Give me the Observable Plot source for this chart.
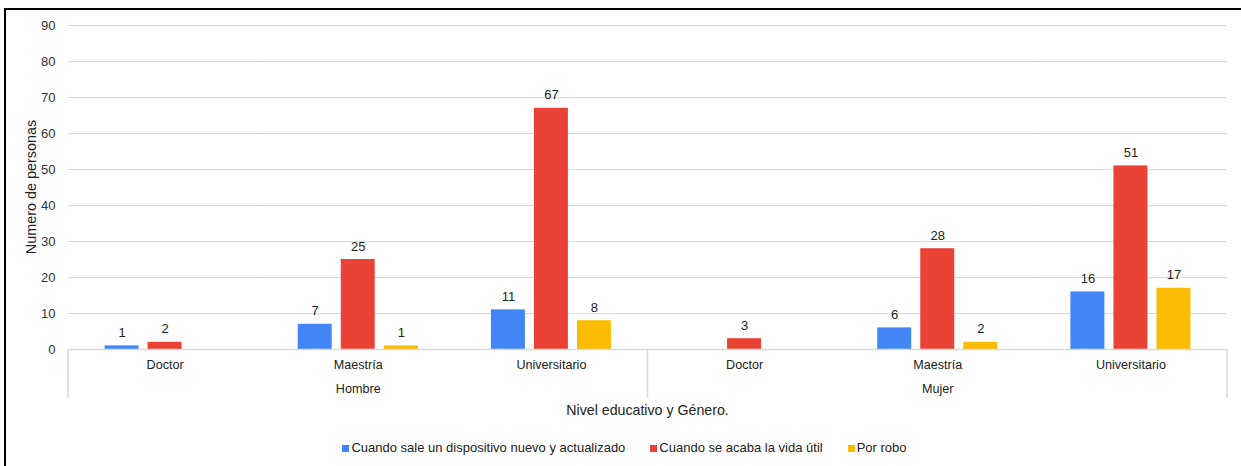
<!DOCTYPE html>
<html>
<head>
<meta charset="utf-8">
<script src="https://cdn.jsdelivr.net/npm/d3@7"></script>
<script src="https://cdn.jsdelivr.net/npm/@observablehq/plot@0.6"></script>
<style>
  html, body { margin: 0; padding: 0; background: #fff; }
  body { width: 1241px; height: 466px; position: relative; overflow: hidden;
         font-family: "Liberation Sans", Arial, sans-serif; color: #333; }
  #chart { position: absolute; left: 0; top: 0; }
  #frame { position: absolute; left: 4px; top: 8px; width: 1260px; height: 480px;
           border-left: 2px solid #000; border-top: 2px solid #000; pointer-events: none; }
  #legend { position: absolute; left: 0; top: 440px; width: 1249px; display: flex;
            justify-content: center; gap: 25px; font-size: 13px; line-height: 16px; color: #222; }
  #legend span.sw { display: inline-block; width: 7px; height: 7px; margin-right: 2px; vertical-align: 0px; }
</style>
</head>
<body>
<div id="chart"></div>
<div id="legend"></div>
<div id="frame"></div>
<script>
// Genders (outer grouping) and education levels (inner categories)
const generos = ["Hombre", "Mujer"];
const niveles = ["Doctor", "Maestría", "Universitario"];

// Reasons for replacing a device (series) and their colours
const motivos = [
  "Cuando sale un dispositivo nuevo y actualizado",
  "Cuando se acaba la vida útil",
  "Por robo"
];
const colores = ["#4285F4", "#EA4335", "#FBBC04"];

// Counts per gender × level, in order Hombre (Doctor, Maestría, Universitario), Mujer (...)
const nuevoDispositivo = [1, 7, 11, 0, 6, 16];
const vidaUtil = [2, 25, 67, 3, 28, 51];
const porRobo = [0, 1, 8, 0, 2, 17];

const yTicks = [0, 10, 20, 30, 40, 50, 60, 70, 80, 90];

// Build the long table
const grupos = [];
generos.forEach(g => niveles.forEach(n => grupos.push({genero: g, nivel: n, key: g + "|" + n})));
const seriesValues = [nuevoDispositivo, vidaUtil, porRobo];
const rows = [];
grupos.forEach((grp, i) => {
  motivos.forEach((m, s) => rows.push({...grp, motivo: m, valor: seriesValues[s][i]}));
});

const W = 1241, H = 430;
const chart = Plot.plot({
  width: W,
  height: H,
  marginLeft: 68,
  marginRight: 14,
  marginTop: 25,
  marginBottom: 81,
  style: {fontFamily: "Liberation Sans, Arial, sans-serif", fontSize: "12px", color: "#333", background: "#fff"},
  fx: {domain: grupos.map(d => d.key), padding: 0, axis: null, round: false},
  x: {domain: motivos, paddingInner: 0.21, paddingOuter: 0.85, axis: null, round: false},
  y: {domain: [0, 90], ticks: yTicks, tickSize: 0, tickPadding: 13, grid: false, label: null},
  color: {domain: motivos, range: colores},
  marks: [
    Plot.gridY(yTicks, {stroke: "#d9d9d9", strokeOpacity: 1, strokeWidth: 1}),
    Plot.axisY(yTicks, {tickSize: 0, tickPadding: 13, label: null, fill: "#333", fontSize: 13}),
    Plot.barY(rows, {fx: "key", x: "motivo", y: "valor", fill: "motivo"}),
    Plot.ruleY([0], {stroke: "#d9d9d9", strokeWidth: 1.5}),
    Plot.text(rows.filter(d => d.valor > 0), {
      fx: "key", x: "motivo", y: "valor", text: d => String(d.valor),
      dy: -13, fill: "#222", fontSize: 13
    }),
    // education level labels under each group
    Plot.text(grupos, {fx: "key", frameAnchor: "bottom", dy: 19, text: "nivel", fill: "#222", fontSize: 12.6}),
    // gender labels under the middle level of each gender
    Plot.text(grupos.filter(d => d.nivel === "Maestría"), {fx: "key", frameAnchor: "bottom", dy: 43, text: "genero", fill: "#222", fontSize: 12.6})
  ]
});
document.getElementById("chart").append(chart);

// Hierarchical axis separators and titles, placed from the plot's own scales
const fx = chart.scale("fx");
const y = chart.scale("y");
const svg = d3.select(chart);
const y0 = y.apply(0);
const bw = fx.bandwidth;
const edges = [
  fx.apply(generos[0] + "|" + niveles[0]),
  fx.apply(generos[1] + "|" + niveles[0]),
  fx.apply(generos[1] + "|" + niveles[2]) + bw
];
svg.append("g")
  .selectAll("line").data(edges).join("line")
  .attr("x1", d => d).attr("x2", d => d)
  .attr("y1", y0).attr("y2", y0 + 49)
  .attr("stroke", "#d9d9d9").attr("stroke-width", 1.5);

const xMid = (edges[0] + edges[2]) / 2;
svg.append("text")
  .attr("x", xMid).attr("y", y0 + 61).attr("dy", "0.32em")
  .attr("text-anchor", "middle").attr("fill", "#222").attr("font-size", 14.2)
  .text("Nivel educativo y Género.");

const yr = y.range;
svg.append("text")
  .attr("transform", `translate(31,${(yr[0] + yr[1]) / 2}) rotate(-90)`)
  .attr("dy", "0.32em")
  .attr("text-anchor", "middle").attr("fill", "#222").attr("font-size", 14.4)
  .text("Numero de personas");

// Legend
const legend = d3.select("#legend");
motivos.forEach((m, i) => {
  const item = legend.append("div");
  item.append("span").attr("class", "sw").style("background", colores[i]);
  item.append("span").text(m);
});
</script>
</body>
</html>
